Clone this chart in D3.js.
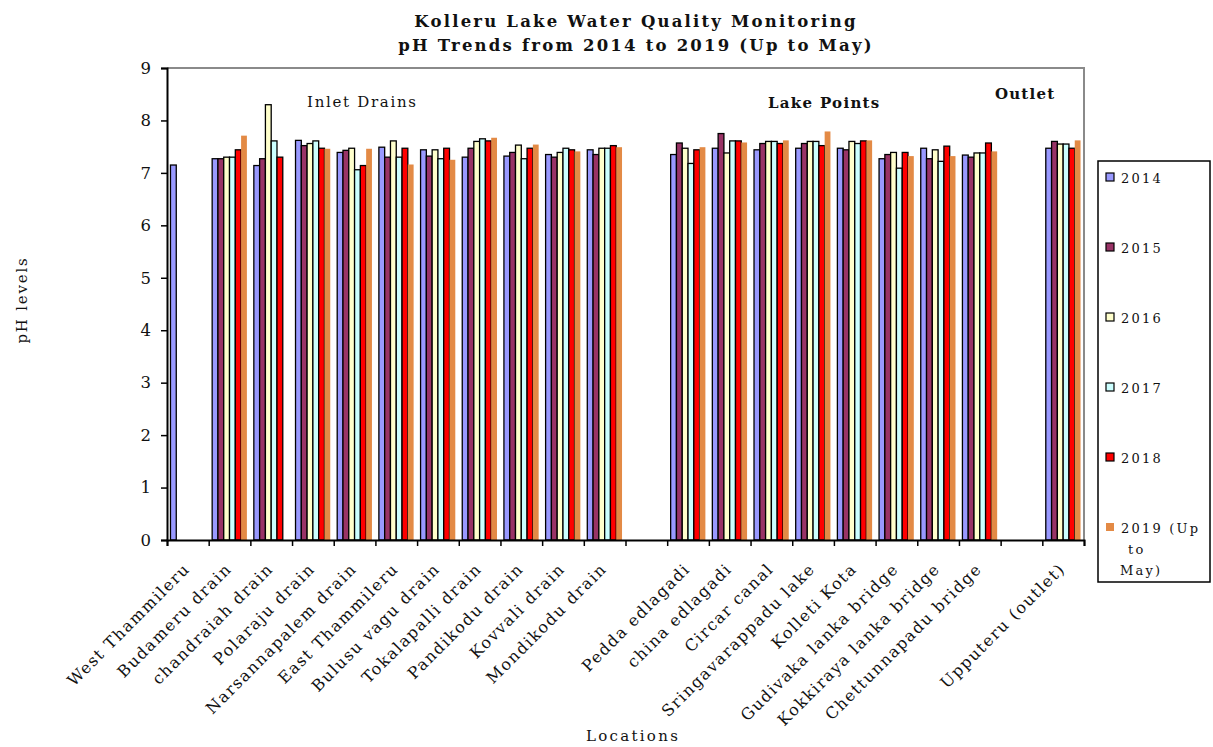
<!DOCTYPE html>
<html><head><meta charset="utf-8">
<script src="https://cdn.jsdelivr.net/npm/d3@7"></script>
<style>
body{margin:0;background:#fff;}
svg{display:block;}
text{font-family:"DejaVu Serif",serif;fill:#111;}
</style></head>
<body><svg id="c" width="1213" height="747"></svg>
<script>
const categories = ["West Thammileru","Budameru drain","chandraiah drain","Polaraju drain","Narsannapalem drain","East Thammileru","Bulusu vagu drain","Tokalapalli drain","Pandikodu drain","Kovvali drain","Mondikodu drain","","Pedda edlagadi","china edlagadi","Circar canal","Sringavarappadu lake","Kolleti Kota","Gudivaka lanka bridge","Kokkiraya lanka bridge","Chettunnapadu bridge","","Upputeru (outlet)"];
const seriesNames = ["2014","2015","2016","2017","2018","2019 (Up to May)"];
const v2014 = [7.15,7.27,7.14,7.62,7.39,7.49,7.44,7.30,7.32,7.35,7.44,null,7.35,7.47,7.44,7.47,7.47,7.27,7.47,7.34,null,7.47];
const v2015 = [null,7.27,7.27,7.52,7.43,7.30,7.32,7.47,7.39,7.30,7.35,null,7.57,7.75,7.56,7.56,7.44,7.35,7.27,7.30,null,7.60];
const v2016 = [null,7.30,8.30,7.56,7.47,7.61,7.44,7.60,7.53,7.39,7.47,null,7.47,7.38,7.60,7.60,7.60,7.39,7.44,7.38,null,7.55];
const v2017 = [null,7.30,7.61,7.61,7.06,7.30,7.27,7.65,7.27,7.47,7.47,null,7.18,7.61,7.60,7.60,7.56,7.09,7.22,7.38,null,7.55];
const v2018 = [null,7.44,7.30,7.47,7.14,7.47,7.47,7.61,7.47,7.44,7.52,null,7.44,7.61,7.56,7.52,7.61,7.39,7.51,7.57,null,7.47];
const v2019 = [null,7.71,null,7.46,7.46,7.16,7.25,7.67,7.54,7.41,7.49,null,7.49,7.58,7.62,7.79,7.62,7.32,7.32,7.41,null,7.62];
const yTicks = [0,1,2,3,4,5,6,7,8,9];
const seriesValues = [v2014,v2015,v2016,v2017,v2018,v2019];
const colors = ["#9999FF","#993366","#FFFFCC","#CCFFFF","#FF0000","#E38A45"];
const strokes = ["#000","#000","#000","#000","#000","none"];

const svg = d3.select("#c");
const L=167, R=1084, T=68, B=540;
const keys = categories.map((c,i)=>i);
const x0 = d3.scaleBand().domain(keys).range([L,R]).padding(0);
const x1 = d3.scaleBand().domain(d3.range(seriesNames.length)).range([0,x0.bandwidth()]).paddingInner(0).paddingOuter(0.6);
const y = d3.scaleLinear().domain([0,9]).range([B,T]);

// frame (top/right grey)
svg.append("path").attr("d",`M${L},${T}H${R}V${B}`).attr("fill","none").attr("stroke","#8a8a8a").attr("stroke-width",2);

// bars
seriesValues.forEach((vals,s)=>{
  svg.append("g").selectAll("rect").data(vals.map((v,i)=>({v,i})).filter(d=>d.v!=null))
    .join("rect")
    .attr("x",d=>x0(d.i)+x1(s))
    .attr("width",x1.bandwidth())
    .attr("y",d=>y(d.v))
    .attr("height",d=>y(0)-y(d.v))
    .attr("fill",colors[s])
    .attr("stroke",strokes[s])
    .attr("stroke-width",1.3);
});

// y axis
const ya = svg.append("g").attr("transform",`translate(${L},0)`)
  .call(d3.axisLeft(y).tickValues(yTicks).tickSize(6).tickPadding(10).tickFormat(d3.format("d")));
ya.select(".domain").attr("stroke","#000").attr("stroke-width",2);
ya.selectAll(".tick line").attr("stroke","#000").attr("stroke-width",1.5);
ya.selectAll("text").attr("font-size",16.5).attr("font-family","DejaVu Serif").attr("fill","#111");

// x axis with ticks at category boundaries
const xb = d3.scaleLinear().domain([0,categories.length]).range([L,R]);
const xa = svg.append("g").attr("transform",`translate(0,${B})`)
  .call(d3.axisBottom(xb).tickValues(d3.range(categories.length+1)).tickSize(6).tickFormat(""));
xa.select(".domain").attr("stroke","#000").attr("stroke-width",2);
xa.selectAll(".tick line").attr("stroke","#000").attr("stroke-width",1.5);

// category labels
svg.append("g").selectAll("text").data(categories.map((c,i)=>({c,i})).filter(d=>d.c!==""))
  .join("text")
  .attr("transform",d=>`translate(${x0(d.i)+x0.bandwidth()/2+3},${B+30}) rotate(-45)`)
  .attr("text-anchor","end")
  .attr("font-size",16)
  .attr("letter-spacing",1.5)
  .attr("fill","#333")
  .text(d=>d.c);

// titles
svg.append("text").attr("x",636).attr("y",27).attr("text-anchor","middle").attr("font-weight","bold").attr("font-size",16.5).attr("letter-spacing",2.2)
  .text("Kolleru Lake Water Quality Monitoring");
svg.append("text").attr("x",636).attr("y",51).attr("text-anchor","middle").attr("font-weight","bold").attr("font-size",16.5).attr("letter-spacing",2.2)
  .text("pH Trends from 2014 to 2019 (Up to May)");

svg.append("text").attr("transform","translate(27,300) rotate(-90)").attr("text-anchor","middle").attr("font-size",15).attr("letter-spacing",1.8).text("pH levels");
svg.append("text").attr("x",633).attr("y",741).attr("text-anchor","middle").attr("font-size",15).attr("letter-spacing",2.3).text("Locations");

// group annotations
svg.append("text").attr("x",307).attr("y",107).attr("font-size",15).attr("letter-spacing",1.7).text("Inlet Drains");
svg.append("text").attr("x",768).attr("y",108).attr("font-size",15).attr("font-weight","bold").attr("letter-spacing",1.3).text("Lake Points");
svg.append("text").attr("x",995).attr("y",99).attr("font-size",15).attr("font-weight","bold").attr("letter-spacing",1.2).text("Outlet");

// legend
const lg = svg.append("g");
lg.append("rect").attr("x",1098).attr("y",161).attr("width",112).attr("height",421).attr("fill","#fff").attr("stroke","#000").attr("stroke-width",1.5);
seriesNames.forEach((n,i)=>{
  const yy = 178 + i*70;
  lg.append("rect").attr("x",1106).attr("y",yy-5).attr("width",8).attr("height",8)
    .attr("fill",colors[i]).attr("stroke",strokes[i]).attr("stroke-width",1.2);
  const t = lg.append("text").attr("x",1121).attr("y",yy+5).attr("font-size",13).attr("letter-spacing",2.2);
  if(i===5){
    t.append("tspan").attr("x",1121).text("2019 (Up");
    t.append("tspan").attr("x",1128).attr("dy",21).text("to");
    t.append("tspan").attr("x",1120).attr("dy",21).text("May)");
  } else t.text(n);
});
</script></body></html>
